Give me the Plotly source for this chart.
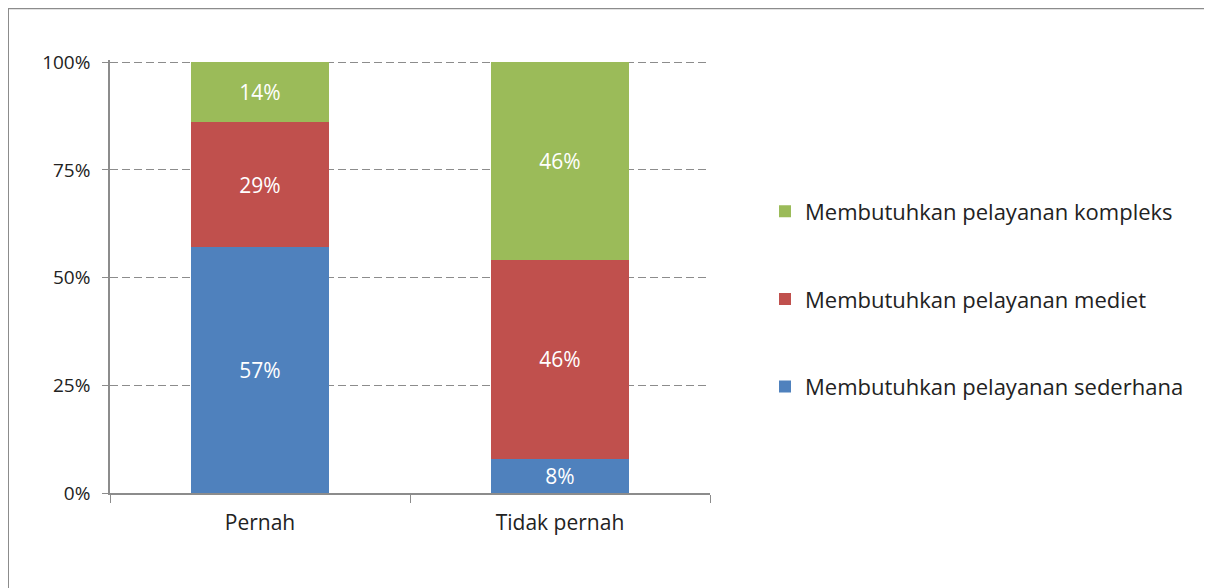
import plotly.graph_objects as go

categories = ["Pernah", "Tidak pernah"]
series_names = [
    "Membutuhkan pelayanan sederhana",
    "Membutuhkan pelayanan mediet",
    "Membutuhkan pelayanan kompleks",
]
sederhana = [57, 8]
mediet = [29, 46]
kompleks = [14, 46]
colors = ["#4F81BD", "#C0504D", "#9BBB59"]
y_tick_vals = [0, 25, 50, 75, 100]
y_tick_text = ["0%", "25%", "50%", "75%", "100%"]

FONT = "Open Sans"
OFF = 8  # page body margin
YMAX = 100.5

fig = go.Figure()
for i, (name, vals) in enumerate(zip(series_names, [sederhana, mediet, kompleks])):
    fig.add_trace(go.Bar(
        x=categories, y=vals, name=name,
        marker=dict(color=colors[i], line=dict(width=0)),
        texttemplate="%{y}%", textposition="inside",
        insidetextanchor="middle", constraintext="none",
        textfont=dict(color="white", size=21, family=FONT),
        legendgroup=name, legendrank=3 - i,
    ))

W, H = 1212, 588
plot_top_screen = 493 - 431 * YMAX / 100
L, R = 110 - OFF, 502 + OFF
T, B = plot_top_screen - OFF, 95 + OFF
pw, ph = W - L - R, H - T - B

def px_x(x):
    return (x - OFF - L) / pw

def px_y(y):
    return (H - B - (y - OFF)) / ph

fig.update_layout(
    width=W, height=H,
    barmode="stack", bargap=0.54,
    margin=dict(l=L, r=R, t=T, b=B),
    paper_bgcolor="white", plot_bgcolor="white",
    font=dict(family=FONT, size=19, color="#222222"),
    showlegend=True,
    legend=dict(
        x=px_x(765), y=px_y(299), xanchor="left", yanchor="middle",
        traceorder="grouped", tracegroupgap=56,
        font=dict(size=22, family=FONT, color="#222222"),
        itemwidth=30, bgcolor="rgba(0,0,0,0)",
    ),
    shapes=[dict(
        type="rect", xref="paper", yref="paper",
        x0=px_x(8), x1=px_x(1209), y0=px_y(640), y1=px_y(8),
        line=dict(color="#8c8c8c", width=2), fillcolor="rgba(0,0,0,0)",
        layer="below",
    )],
)
fig.update_yaxes(
    range=[0, YMAX], tickvals=y_tick_vals, ticktext=y_tick_text,
    showline=True, linecolor="#8c8c8c", linewidth=1.5,
    ticks="outside", ticklen=6, tickcolor="#8c8c8c",
    showgrid=True, gridcolor="#8c8c8c", griddash="8px,4px", gridwidth=1,
    zeroline=False, ticklabelstandoff=8,
    tickfont=dict(size=19, family=FONT, color="#222222"),
)
fig.update_xaxes(
    showline=True, linecolor="#8c8c8c", linewidth=1.5,
    ticks="outside", ticklen=8, tickcolor="#8c8c8c", tickson="boundaries",
    showgrid=False, ticklabelstandoff=10,
    tickfont=dict(size=21, family=FONT, color="#222222"),
)
fig.write_html("out.html")
